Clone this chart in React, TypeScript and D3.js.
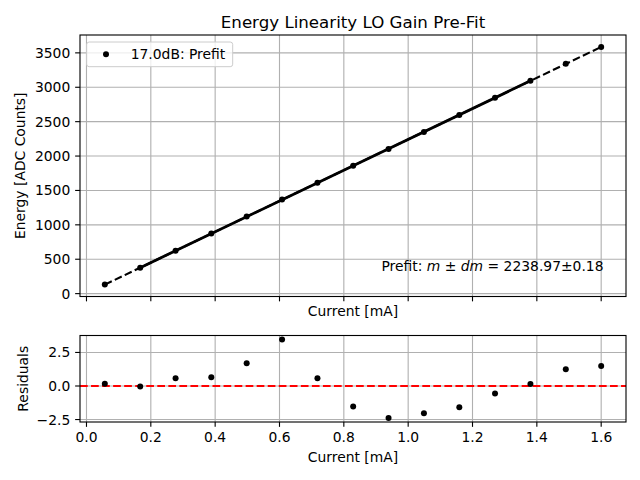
import React, { useEffect, useRef } from 'react';
import * as d3 from 'd3';

// values
const current = [0.057, 0.167, 0.277, 0.388, 0.498, 0.608, 0.718, 0.829, 0.939, 1.049, 1.159, 1.270, 1.380, 1.490, 1.600];
const energy = [131, 377, 624, 873, 1120, 1368, 1612, 1858, 2103, 2350, 2597, 2846, 3094, 3341, 3587];
const residuals = [0.17, -0.03, 0.57, 0.65, 1.69, 3.47, 0.57, -1.52, -2.39, -2.04, -1.59, -0.55, 0.15, 1.24, 1.49];
const fitSlope = 2238.97;
const fitIntercept = 3.4;
const fitRange = [1, 12]; // indices of first/last point used in the fit
const xTicks = [0.0, 0.2, 0.4, 0.6, 0.8, 1.0, 1.2, 1.4, 1.6];
const energyTicks = [0, 500, 1000, 1500, 2000, 2500, 3000, 3500];
const residualTicks = [-2.5, 0.0, 2.5];
const legendLabel = '17.0dB: Prefit';
const title = 'Energy Linearity LO Gain Pre-Fit';

const FONT = 'DejaVu Sans, sans-serif';
const PT = 100 / 72;

// matplotlib style 5% margins
function padded(values: number[]): [number, number] {
  const [lo, hi] = d3.extent(values) as [number, number];
  const m = (hi - lo) * 0.05;
  return [lo - m, hi + m];
}

function fmtMinus(s: string) {
  return s.replace('-', '\u2212');
}

export default function App() {
  const svgRef = useRef<SVGSVGElement>(null);

  useEffect(() => {
    if (!svgRef.current) return;
    const svg = d3.select(svgRef.current);
    svg.selectAll('*').remove();

    const left = 80;
    const right = 626;
    const top1 = { t: 35, b: 296.5 };
    const top2 = { t: 335.5, b: 422 };

    const x = d3.scaleLinear().domain(padded(current)).range([left, right]);
    const yE = d3.scaleLinear().domain(padded(energy)).range([top1.b, top1.t]);
    const yR = d3.scaleLinear().domain(padded(residuals)).range([top2.b, top2.t]);

    const gridColor = '#b0b0b0';
    const tickLen = 3.5 * PT;
    const fs = 10 * PT;

    function panel(y: d3.ScaleLinear<number, number>, yTicks: number[], box: { t: number; b: number }, xLabels: boolean, yFmt: (v: number) => string) {
      const g = svg.append('g');
      // grid
      g.selectAll('line.gx').data(xTicks).join('line')
        .attr('x1', d => x(d)).attr('x2', d => x(d))
        .attr('y1', box.t).attr('y2', box.b)
        .attr('stroke', gridColor).attr('stroke-width', 0.8 * PT);
      g.selectAll('line.gy').data(yTicks).join('line')
        .attr('x1', left).attr('x2', right)
        .attr('y1', d => y(d)).attr('y2', d => y(d))
        .attr('stroke', gridColor).attr('stroke-width', 0.8 * PT);
      // ticks
      g.selectAll('line.tx').data(xTicks).join('line')
        .attr('x1', d => x(d)).attr('x2', d => x(d))
        .attr('y1', box.b).attr('y2', box.b + tickLen)
        .attr('stroke', '#000').attr('stroke-width', 0.8 * PT);
      g.selectAll('line.ty').data(yTicks).join('line')
        .attr('x1', left - tickLen).attr('x2', left)
        .attr('y1', d => y(d)).attr('y2', d => y(d))
        .attr('stroke', '#000').attr('stroke-width', 0.8 * PT);
      g.selectAll('text.ty').data(yTicks).join('text')
        .attr('x', left - tickLen - 3.5 * PT)
        .attr('y', d => y(d))
        .attr('dy', '0.36em')
        .attr('text-anchor', 'end')
        .attr('font-family', FONT).attr('font-size', fs)
        .text(d => yFmt(d));
      if (xLabels) {
        g.selectAll('text.tx').data(xTicks).join('text')
          .attr('x', d => x(d))
          .attr('y', box.b + tickLen + 3.5 * PT + 10.3)
          .attr('text-anchor', 'middle')
          .attr('font-family', FONT).attr('font-size', fs)
          .text(d => d.toFixed(1));
      }
      return g;
    }

    // ---- top panel
    panel(yE, energyTicks, top1, false, d => String(d));
    const fitLine = d3.line<number>().x(d => x(d)).y(d => yE(fitSlope * d + fitIntercept));
    svg.append('path')
      .datum([current[0], current[current.length - 1]])
      .attr('d', fitLine)
      .attr('fill', 'none').attr('stroke', '#000')
      .attr('stroke-width', 1.5 * PT)
      .attr('stroke-dasharray', `${3.7 * 1.5 * PT},${1.6 * 1.5 * PT}`);
    svg.append('path')
      .datum([current[fitRange[0]], current[fitRange[1]]])
      .attr('d', fitLine)
      .attr('fill', 'none').attr('stroke', '#000')
      .attr('stroke-width', 2 * PT);
    svg.append('g').selectAll('circle').data(current).join('circle')
      .attr('cx', d => x(d)).attr('cy', (_, i) => yE(energy[i]))
      .attr('r', 3).attr('fill', '#000');
    svg.append('rect')
      .attr('x', left).attr('y', top1.t)
      .attr('width', right - left).attr('height', top1.b - top1.t)
      .attr('fill', 'none').attr('stroke', '#000').attr('stroke-width', 0.8 * PT);

    // legend
    const lg = svg.append('g');
    lg.append('rect')
      .attr('x', 86.7).attr('y', 42).attr('width', 146).attr('height', 24.7)
      .attr('rx', 2.5).attr('fill', 'rgba(255,255,255,0.8)')
      .attr('stroke', '#cccccc').attr('stroke-width', 1);
    lg.append('circle').attr('cx', 106).attr('cy', 54.3).attr('r', 3).attr('fill', '#000');
    lg.append('text')
      .attr('x', 130.7).attr('y', 59.2)
      .attr('font-family', FONT).attr('font-size', fs)
      .text(legendLabel);

    // annotation
    const ann = svg.append('text')
      .attr('x', 381.5).attr('y', 270.5)
      .attr('font-family', FONT).attr('font-size', fs);
    ann.append('tspan').text('Prefit: ');
    ann.append('tspan').attr('font-style', 'italic').text('m');
    ann.append('tspan').text(' \u00b1 ');
    ann.append('tspan').attr('font-style', 'italic').text('dm');
    ann.append('tspan').text(` = ${fitSlope.toFixed(2)}\u00b10.18`);

    // labels
    svg.append('text')
      .attr('x', (left + right) / 2).attr('y', 27.5)
      .attr('text-anchor', 'middle')
      .attr('font-family', FONT).attr('font-size', 12 * PT)
      .text(title);
    svg.append('text')
      .attr('x', (left + right) / 2).attr('y', 315.5)
      .attr('text-anchor', 'middle')
      .attr('font-family', FONT).attr('font-size', fs)
      .text('Current [mA]');
    svg.append('text')
      .attr('transform', `translate(25,${(top1.t + top1.b) / 2}) rotate(-90)`)
      .attr('text-anchor', 'middle')
      .attr('font-family', FONT).attr('font-size', fs)
      .text('Energy [ADC Counts]');

    // ---- bottom panel
    panel(yR, residualTicks, top2, true, d => fmtMinus(d.toFixed(1)));
    svg.append('line')
      .attr('x1', left).attr('x2', right)
      .attr('y1', yR(0)).attr('y2', yR(0))
      .attr('stroke', '#ff0000').attr('stroke-width', 1.5 * PT)
      .attr('stroke-dasharray', `${3.7 * 1.5 * PT},${1.6 * 1.5 * PT}`);
    svg.append('g').selectAll('circle').data(current).join('circle')
      .attr('cx', d => x(d)).attr('cy', (_, i) => yR(residuals[i]))
      .attr('r', 3).attr('fill', '#000');
    svg.append('rect')
      .attr('x', left).attr('y', top2.t)
      .attr('width', right - left).attr('height', top2.b - top2.t)
      .attr('fill', 'none').attr('stroke', '#000').attr('stroke-width', 0.8 * PT);
    svg.append('text')
      .attr('x', (left + right) / 2).attr('y', 461.5)
      .attr('text-anchor', 'middle')
      .attr('font-family', FONT).attr('font-size', fs)
      .text('Current [mA]');
    svg.append('text')
      .attr('transform', `translate(28,${(top2.t + top2.b) / 2}) rotate(-90)`)
      .attr('text-anchor', 'middle')
      .attr('font-family', FONT).attr('font-size', fs)
      .text('Residuals');
  }, []);

  return (
    <div style={{ position: 'absolute', left: 0, top: 0 }}>
      <svg ref={svgRef} width={640} height={480} style={{ display: 'block', background: '#fff' }} />
    </div>
  );
}
